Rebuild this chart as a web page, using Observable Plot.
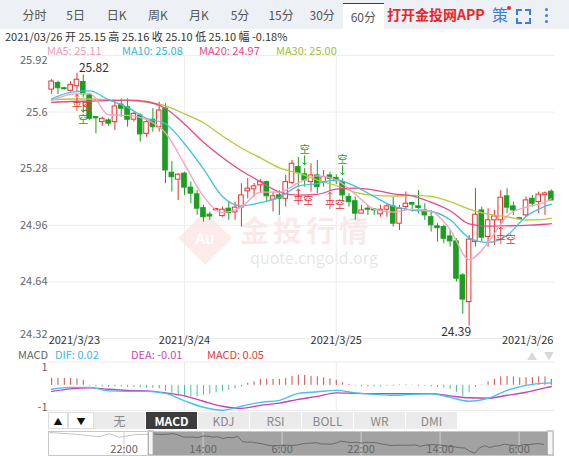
<!DOCTYPE html>
<html>
<head>
<meta charset="utf-8">
<script src="https://cdn.jsdelivr.net/npm/d3@7"></script>
<script src="https://cdn.jsdelivr.net/npm/@observablehq/plot@0.6"></script>
<style>
html,body{margin:0;padding:0;background:#fff}
body{width:569px;height:456px;position:relative;overflow:hidden;font-family:"Noto Sans CJK SC","Liberation Sans",sans-serif;color:#333}
.a{position:absolute}
#bar{left:0;top:0;width:569px;height:29px;background:#edf0f4}
.tab{position:absolute;top:0;width:41px;height:29px;line-height:29px;text-align:center;font-size:12px;color:#555}
.tab.sel{top:3px;height:26px;line-height:25px;background:#fff;border-top:1px solid #2b3f66;box-sizing:border-box}
#app{left:387px;top:0;height:29px;line-height:29px;font-size:14px;font-weight:bold;color:#e8262b;white-space:nowrap}
#ce{left:492px;top:0;height:29px;line-height:29px;font-size:16px;color:#3b7dd8}
#cedot{left:507px;top:6px;width:4px;height:4px;border-radius:2px;background:#e8262b}
.cor{position:absolute;width:4px;height:4px;border-color:#3b7dd8;border-style:solid;border-width:0}
.dot{position:absolute;width:3px;height:3px;border-radius:2px;background:#3b7dd8}
#header{left:5px;top:30px;font-size:11px;line-height:13px;color:#333;white-space:pre}
.mal{position:absolute;top:44px;font-size:11px;line-height:12px;white-space:nowrap}
#wm1{left:240px;top:215px;font-size:29px;line-height:29px;font-weight:bold;letter-spacing:4px;color:rgba(225,120,120,0.17);white-space:nowrap}
#wm2{left:250px;top:249px;font-size:16px;line-height:16px;color:rgba(120,120,120,0.2);white-space:nowrap}
#wmlogo{left:186px;top:219px;width:38px;height:38px;transform:rotate(45deg);background:rgba(230,140,130,0.17)}
#wmau{left:186px;top:229px;width:38px;line-height:18px;text-align:center;font-size:15px;font-weight:bold;color:rgba(255,255,255,0.9)}
.mh{position:absolute;top:348px;font-size:11px;line-height:12px;white-space:nowrap}
.ib{position:absolute;top:412px;height:17px;line-height:17px;text-align:center;font-size:12px;color:#888;background:#ebebeb;box-sizing:border-box;border-right:1px solid #fff}
.ib.sel{background:#3c3c3c;color:#fff;font-weight:bold}
.ib.arr{background:#fff;color:#111;border:1px solid #ddd;font-size:9px}
</style>
</head>
<body>
<div id="bar" class="a"></div>
<div id="app" class="a"></div>
<div id="ce" class="a">策</div>
<div id="cedot" class="a"></div>
<div id="header" class="a"></div>
<div id="wmlogo" class="a"></div>
<div id="wmau" class="a">Au</div>
<div id="wm1" class="a">金投行情</div>
<div id="wm2" class="a">quote.cngold.org</div>
<div id="main" class="a" style="left:0;top:50px"></div>
<div id="macd" class="a" style="left:0;top:358px"></div>
<div id="nav" class="a" style="left:0;top:430px"></div>
<script>
// ---------- data ----------
const tabLabels = ["分时","5日","日K","周K","月K","5分","15分","30分","60分"];
const selectedTab = "60分";
const appText = "打开金投网APP";
const headerText = "2021/03/26 开 25.15 高 25.16 收 25.10 低 25.10 幅 -0.18%";
const maNames = ["MA5","MA10","MA20","MA30"];
const maLast = ["25.11","25.08","24.97","25.00"];
const macdNames = ["MACD","DIF: 0.02","DEA: -0.01","MACD: 0.05"];
const indicatorTabs = ["无","MACD","KDJ","RSI","BOLL","WR","DMI"];
const selectedIndicator = "MACD";

const yTicks = [25.92, 25.6, 25.28, 24.96, 24.64, 24.32];
const dayIdx = [0, 21, 45, 79];
const dayLabels = ["2021/3/23","2021/3/24","2021/3/25","2021/3/26"];

const opens = [25.727,25.765,25.735,25.72,25.746,25.77,25.694,25.568,25.543,25.553,
25.543,25.642,25.628,25.557,25.581,25.477,25.557,25.515,25.62,25.257,
25.218,25.252,25.173,25.135,25.057,25.02,25.045,25.012,25.054,25.033,
25.06,25.152,25.163,25.186,25.204,25.105,25.129,25.11,25.2,25.289,
25.248,25.204,25.242,25.204,25.242,25.228,25.204,25.12,25.096,25.026,
25.05,25.05,25.022,25.048,25.067,24.969,25.063,25.086,25.067,25.044,
25.006,24.954,24.95,24.897,24.869,24.677,24.526,24.865,25.044,24.894,
24.988,24.988,25.124,25.067,25.0,25.016,25.11,25.091,25.13,25.15];
const highs = [25.784,25.775,25.74,25.773,25.82,25.81,25.70,25.57,25.571,25.562,
25.666,25.675,25.675,25.60,25.59,25.562,25.62,25.656,25.647,25.32,
25.252,25.26,25.205,25.157,25.073,25.035,25.05,25.063,25.091,25.091,
25.195,25.224,25.197,25.22,25.21,25.148,25.157,25.242,25.327,25.345,
25.28,25.308,25.327,25.27,25.26,25.245,25.223,25.139,25.12,25.073,
25.073,25.054,25.073,25.082,25.12,25.073,25.148,25.091,25.157,25.082,
25.044,24.969,24.96,24.931,24.884,24.687,24.903,25.167,25.063,25.054,
25.044,25.157,25.167,25.091,25.005,25.12,25.129,25.148,25.148,25.16];
const lows = [25.70,25.70,25.725,25.713,25.71,25.68,25.553,25.477,25.52,25.52,
25.496,25.571,25.515,25.543,25.43,25.458,25.487,25.487,25.195,25.148,
25.10,25.129,25.082,25.016,24.978,24.988,25.04,25.006,24.988,24.988,
24.95,25.11,25.12,25.142,25.091,25.035,25.016,25.063,25.19,25.176,
25.176,25.148,25.139,25.176,25.157,25.19,25.091,25.063,24.988,25.026,
25.016,25.016,25.006,25.006,24.95,24.931,25.044,25.035,25.026,24.988,
24.922,24.865,24.856,24.837,24.64,24.457,24.39,24.837,24.865,24.837,
24.847,24.96,25.026,25.016,24.99,25.006,25.063,25.026,25.016,25.10];
const closes = [25.773,25.735,25.73,25.754,25.783,25.70,25.562,25.565,25.562,25.535,
25.632,25.619,25.557,25.59,25.474,25.543,25.515,25.609,25.27,25.232,
25.246,25.173,25.139,25.054,25.006,25.01,25.048,25.048,25.029,25.06,
25.129,25.167,25.18,25.204,25.124,25.124,25.11,25.204,25.308,25.255,
25.214,25.242,25.176,25.232,25.223,25.21,25.129,25.091,25.026,25.044,
25.048,25.045,25.048,25.067,24.969,25.054,25.082,25.077,25.058,25.016,
24.96,24.944,24.884,24.869,24.658,24.54,24.879,25.02,24.89,24.988,
25.01,25.116,25.06,25.044,24.995,25.101,25.082,25.133,25.14,25.10];

// moving averages read at these candle positions
const maIdx = [0,3,6,9,12,15,18,21,24,27,30,33,36,39,42,45,48,51,54,57,60,63,66,69,72,75,78,79];
const ma5  = [25.665,25.70,25.706,25.585,25.581,25.557,25.482,25.306,25.124,25.033,25.063,25.148,25.148,25.20,25.239,25.217,25.136,25.051,25.035,25.05,25.039,24.935,24.766,24.863,25.013,25.063,25.09,25.11];
const ma10 = [25.675,25.712,25.72,25.67,25.627,25.564,25.534,25.421,25.279,25.123,25.07,25.088,25.118,25.181,25.196,25.217,25.18,25.122,25.068,25.046,25.038,24.991,24.889,24.863,24.903,25.01,25.067,25.08];
const ma20 = [25.655,25.66,25.662,25.665,25.668,25.66,25.62,25.533,25.429,25.343,25.268,25.207,25.148,25.131,25.135,25.164,25.17,25.159,25.138,25.127,25.09,25.042,24.968,24.955,24.957,24.96,24.966,24.97];
const ma30 = [25.67,25.674,25.674,25.669,25.666,25.655,25.635,25.59,25.54,25.465,25.397,25.341,25.285,25.255,25.216,25.185,25.146,25.129,25.125,25.129,25.123,25.094,25.052,25.023,25.008,24.99,24.994,25.00];

const hiLabel = "25.82", hiIdx = 4;
const loLabel = "24.39", loIdx = 66;

const sigIdx  = [4, 5, 39, 40, 44, 46, 71];
const sigText = ["平空","空","平空","空","平空","空","平空"];
const sigSide = ["below","below","below","above","below","above","below"];

// MACD
const macdHist = [0.058,0.058,0.058,0.058,0.054,0.042,-0.008,-0.013,-0.013,-0.017,
-0.013,-0.013,-0.017,-0.017,-0.021,-0.025,-0.025,-0.029,-0.05,-0.067,
-0.083,-0.096,-0.096,-0.096,-0.083,-0.075,-0.063,-0.054,-0.042,-0.029,
-0.013,0.017,0.029,0.05,0.05,0.05,0.05,0.058,0.075,0.083,
0.083,0.075,0.071,0.063,0.054,0.042,0.022,0.008,-0.008,-0.013,
-0.013,-0.013,-0.013,-0.008,-0.008,0.004,0.004,0.003,-0.008,-0.008,
-0.013,-0.017,-0.021,-0.033,-0.058,-0.092,-0.063,-0.017,0.004,0.029,
0.05,0.071,0.075,0.071,0.063,0.064,0.064,0.071,0.071,0.05];
const dif = [-0.033,-0.017,-0.017,-0.046,-0.05,-0.05,-0.067,-0.129,-0.183,-0.208,-0.175,-0.142,-0.125,-0.067,-0.054,-0.042,-0.063,-0.075,-0.083,-0.075,-0.071,-0.1,-0.133,-0.108,-0.042,0,0.019,0.02];
const dea = [-0.05,-0.029,-0.021,-0.033,-0.042,-0.046,-0.063,-0.088,-0.133,-0.175,-0.192,-0.167,-0.148,-0.117,-0.092,-0.063,-0.067,-0.069,-0.069,-0.069,-0.069,-0.088,-0.104,-0.108,-0.083,-0.058,-0.021,-0.01];
const macdTicks = [0.195, -0.21];
const macdTickLabels = ["1", "-1"];

// navigator (earlier hours, then the visible candles)
const navPrefixIdx = [-21, -16, -11, -9, -7, -4, -1];
const navPrefix = [25.85, 25.75, 25.59, 25.77, 25.55, 25.71, 25.75];
const navTicks = [-6, 10, 26, 42, 58, 74];
const navTickLabels = ["22:00","14:00","6:00","22:00","14:00","6:00"];
const navSel = [0, 79.8];

// ---------- styles ----------
const FONT = '"Noto Sans CJK SC","Liberation Sans",sans-serif';
const RED = "#e5312f", GREEN = "#1c9e22";
const MA_COLORS = ["#f4a3c3", "#42c0e2", "#e8488a", "#b3cc3a"];
const MA_TEXT = ["#f09abb", "#35b5d8", "#e8488a", "#9cc23a"];
const MACD_TEXT = ["#666", "#3ab9e0", "#cc3fb5", "#e0403a"];

// ---------- html parts ----------
const bar = document.getElementById("bar");
tabLabels.forEach((t, k) => {
  const d = document.createElement("div");
  d.className = "tab" + (t === selectedTab ? " sel" : "");
  d.style.left = (14 + 41.1 * k) + "px";
  d.textContent = t;
  bar.appendChild(d);
});
document.getElementById("app").textContent = appText;
[[516,9,"t","l"],[525,9,"t","r"],[516,18,"b","l"],[525,18,"b","r"]].forEach(([x,y,v,h]) => {
  const c = document.createElement("div");
  c.className = "cor";
  c.style.left = x + "px"; c.style.top = y + "px";
  c.style[v === "t" ? "borderTopWidth" : "borderBottomWidth"] = "2px";
  c.style[h === "l" ? "borderLeftWidth" : "borderRightWidth"] = "2px";
  document.body.appendChild(c);
});
[8, 14, 20].forEach(y => {
  const c = document.createElement("div");
  c.className = "dot"; c.style.left = "545px"; c.style.top = y + "px";
  document.body.appendChild(c);
});
document.getElementById("header").textContent = headerText;
const maLeft = [47, 122, 199, 276];
maNames.forEach((n, k) => {
  const s = document.createElement("div");
  s.className = "mal"; s.style.left = maLeft[k] + "px"; s.style.color = MA_TEXT[k];
  s.textContent = n + ": " + maLast[k];
  document.body.appendChild(s);
});
const mhLeft = [18, 55, 131, 207];
macdNames.forEach((n, k) => {
  const s = document.createElement("div");
  s.className = "mh"; s.style.left = mhLeft[k] + "px"; s.style.color = MACD_TEXT[k];
  s.textContent = n;
  document.body.appendChild(s);
});
["▲","▼"].forEach((t, k) => {
  const s = document.createElement("div");
  s.className = "mh"; s.style.left = (527 + 17 * k) + "px"; s.style.top = "350px";
  s.style.color = "#d8d8d8"; s.style.fontSize = "10px"; s.textContent = t;
  document.body.appendChild(s);
});
[["▲",48,20],["▼",68,26]].forEach(([t,x,w]) => {
  const b = document.createElement("div");
  b.className = "ib arr"; b.style.left = x + "px"; b.style.width = w + "px"; b.textContent = t;
  document.body.appendChild(b);
});
indicatorTabs.forEach((t, k) => {
  const b = document.createElement("div");
  b.className = "ib" + (t === selectedIndicator ? " sel" : "");
  b.style.left = (94 + 52 * k) + "px"; b.style.width = "52px"; b.textContent = t;
  document.body.appendChild(b);
});

// ---------- main chart ----------
const candles = closes.map((c, i) => ({i, o: opens[i], h: highs[i], l: lows[i], c, up: c >= opens[i]}));
const maSeries = [ma5, ma10, ma20, ma30].map(arr => arr.map((v, k) => ({i: maIdx[k], v})));
const sigs = sigIdx.map((i, k) => ({i, t: sigText[k], side: sigSide[k], h: highs[i], l: lows[i], red: sigText[k] === "平空"}));
const bodyTop = d => Math.max(d.o, d.c);
const bodyBot = d => Math.min(d.o, d.c);
const col = d => d.up ? RED : GREEN;

const main = Plot.plot({
  width: 569, height: 300,
  marginLeft: 48, marginRight: 15, marginTop: 5, marginBottom: 12,
  x: {domain: [-0.5, 79.5], axis: null},
  y: {domain: [24.32, 25.92], axis: null},
  color: {type: "identity"},
  style: {background: "transparent", fontFamily: FONT, fontSize: "11px", overflow: "visible"},
  marks: [
    Plot.ruleY(yTicks, {stroke: "#ededed"}),
    Plot.ruleX(dayIdx.slice(1, -1), {stroke: "#ededed"}),
    Plot.ruleX(candles, {x: "i", y1: bodyTop, y2: "h", stroke: col, strokeWidth: 1}),
    Plot.ruleX(candles, {x: "i", y1: "l", y2: bodyBot, stroke: col, strokeWidth: 1}),
    Plot.rect(candles, {
      x1: d => d.i - 0.36, x2: d => d.i + 0.36,
      y1: bodyBot, y2: d => bodyTop(d) + (Math.abs(d.o - d.c) < 0.004 ? 0.004 : 0),
      fill: d => d.up ? "#fff" : GREEN, stroke: col, strokeWidth: 1
    }),
    ...[3, 2, 1, 0].map(k => Plot.line(maSeries[k], {x: "i", y: "v", stroke: MA_COLORS[k], strokeWidth: 1.3, curve: "monotone-x"})),
    // signals
    Plot.vector(sigs.filter(d => d.side === "below" && d.red), {x: "i", y: "l", length: 8, rotate: 0, anchor: "start", dy: 10, stroke: RED, strokeWidth: 1}),
    Plot.text(sigs.filter(d => d.side === "below" && d.red), {x: "i", y: "l", text: "t", dy: 14, dx: -5, textAnchor: "start", fill: RED, fontSize: 10}),
    Plot.vector(sigs.filter(d => d.side === "below" && !d.red), {x: "i", y: "l", length: 10, rotate: 180, anchor: "start", dy: 4, stroke: GREEN, strokeWidth: 1}),
    Plot.text(sigs.filter(d => d.side === "below" && !d.red), {x: "i", y: "l", text: "t", dy: 22, fill: GREEN, fontSize: 10}),
    Plot.vector(sigs.filter(d => d.side === "above"), {x: "i", y: "h", length: 9, rotate: 180, anchor: "end", dy: -4, stroke: GREEN, strokeWidth: 1}),
    Plot.text(sigs.filter(d => d.side === "above"), {x: "i", y: "h", text: "t", dy: -19, fill: GREEN, fontSize: 10}),
    // high / low labels
    Plot.text([hiIdx], {x: d => d, y: d => highs[d], text: () => hiLabel, textAnchor: "start", lineAnchor: "bottom", dx: 2, dy: -1, fill: "#333", fontSize: 12}),
    Plot.text([loIdx], {x: d => d, y: d => lows[d], text: () => loLabel, textAnchor: "end", lineAnchor: "top", dx: 2, dy: 1, fill: "#333", fontSize: 12}),
    // y tick labels
    Plot.text(yTicks.slice(1, -1), {y: d => d, frameAnchor: "left", textAnchor: "end", dx: -1, text: d => String(d), fill: "#666"}),
    Plot.text(yTicks.slice(0, 1), {y: d => d, frameAnchor: "left", textAnchor: "end", dx: -1, lineAnchor: "top", dy: 1, text: d => String(d), fill: "#666"}),
    Plot.text(yTicks.slice(-1), {y: d => d, frameAnchor: "left", textAnchor: "end", dx: -1, lineAnchor: "bottom", dy: -1, text: d => String(d), fill: "#666"}),
    // date labels
    Plot.text(dayIdx.slice(0, 1), {x: d => d, y: () => yTicks[yTicks.length - 1], text: () => dayLabels[0], textAnchor: "start", lineAnchor: "top", dx: -3, dy: -2, fill: "#333"}),
    Plot.text(dayIdx.slice(1, -1), {x: d => d, y: () => yTicks[yTicks.length - 1], text: (d, k) => dayLabels[k + 1], lineAnchor: "top", dy: -2, fill: "#333"}),
    Plot.text(dayIdx.slice(-1), {x: d => d, y: () => yTicks[yTicks.length - 1], text: () => dayLabels[dayLabels.length - 1], textAnchor: "end", lineAnchor: "top", dx: 2, dy: -2, fill: "#333"})
  ]
});
document.getElementById("main").appendChild(main);

// ---------- MACD ----------
const histData = macdHist.map((v, i) => ({i, v}));
const difData = dif.map((v, k) => ({i: maIdx[k], v}));
const deaData = dea.map((v, k) => ({i: maIdx[k], v}));
const macdPlot = Plot.plot({
  width: 569, height: 54,
  marginLeft: 48, marginRight: 15, marginTop: 3.5, marginBottom: 2,
  x: {domain: [-0.5, 79.5], axis: null},
  y: {domain: [-0.21, 0.195], axis: null},
  color: {type: "identity"},
  style: {background: "transparent", fontFamily: FONT, fontSize: "11px", overflow: "visible"},
  marks: [
    Plot.ruleY(macdTicks, {stroke: "#ececec"}),
    Plot.ruleX(dayIdx.slice(1, -1), {stroke: "#ececec"}),
    Plot.ruleX(histData, {x: "i", y1: () => 0, y2: "v", stroke: d => d.v >= 0 ? "#c8504a" : "#4cbf90", strokeWidth: 1}),
    Plot.line(deaData, {x: "i", y: "v", stroke: "#cc3fb5", strokeWidth: 1.4, curve: "monotone-x"}),
    Plot.line(difData, {x: "i", y: "v", stroke: "#45c3ea", strokeWidth: 1.4, curve: "monotone-x"}),
    Plot.text(macdTicks.slice(0, 1), {y: d => d, frameAnchor: "left", textAnchor: "end", dx: -1, lineAnchor: "top", dy: 1, text: () => macdTickLabels[0], fill: "#666"}),
    Plot.text(macdTicks.slice(1), {y: d => d, frameAnchor: "left", textAnchor: "end", dx: -1, lineAnchor: "bottom", dy: 0, text: () => macdTickLabels[1], fill: "#666"})
  ]
});
document.getElementById("macd").appendChild(macdPlot);

// ---------- navigator ----------
const navPre = navPrefixIdx.map((i, k) => ({i, v: navPrefix[k]}));
const navMain = closes.map((v, i) => ({i, v}));
const navPlot = Plot.plot({
  width: 569, height: 26,
  marginLeft: 48, marginRight: 16, marginTop: 1, marginBottom: 1,
  x: {domain: [-21.3, 80.97], axis: null},
  y: {domain: [24.39, 25.92], axis: null},
  style: {background: "transparent", fontFamily: FONT, fontSize: "11px", overflow: "visible"},
  marks: [
    Plot.rect([0], {x1: () => navSel[0], x2: () => navSel[1], fill: "#a2a2a2"}),
    Plot.ruleX(navTicks, {stroke: "#cfcfcf"}),
    Plot.line([...navPre, navMain[0]], {x: "i", y: "v", stroke: "#c4c4c4", strokeWidth: 1}),
    Plot.line(navMain, {x: "i", y: "v", stroke: "#6a6a6a", strokeWidth: 1}),
    Plot.text(navTicks, {x: d => d, text: (d, k) => navTickLabels[k], frameAnchor: "bottom", lineAnchor: "bottom", dy: -3, fill: "#666"}),
    Plot.rect([0], {x1: () => navSel[0] - 1, x2: () => navSel[0], fill: "#f6f6f6", stroke: "#999"}),
    Plot.rect([0], {x1: () => navSel[1], x2: () => navSel[1] + 1.2, fill: "#f6f6f6", stroke: "#999"}),
    Plot.frame({stroke: "#c8c8c8"})
  ]
});
document.getElementById("nav").appendChild(navPlot);
</script>
</body>
</html>
